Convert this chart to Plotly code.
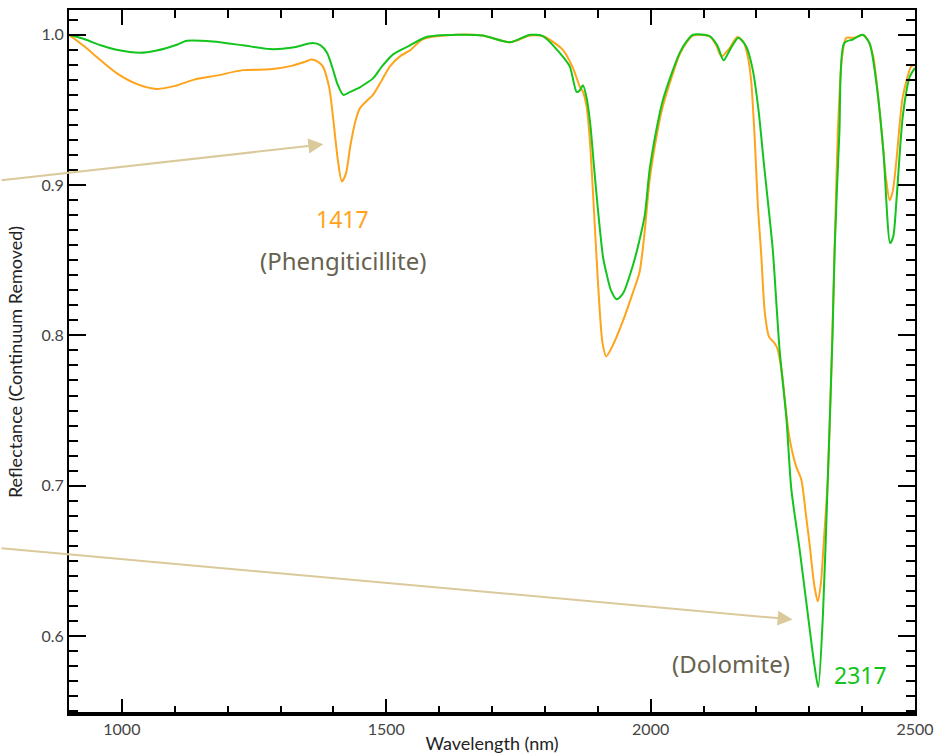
import plotly.graph_objects as go

# ---------------- data ----------------
green_wl = [900, 930, 960, 990, 1034, 1066, 1101, 1123, 1172, 1229, 1280, 1323, 1361, 1376, 1388,
            1400, 1408, 1419, 1432, 1450, 1463, 1475, 1492, 1513, 1545, 1576, 1633, 1682, 1734,
            1772, 1797, 1828, 1847, 1860, 1866, 1872, 1879, 1886, 1893, 1900, 1910, 1916, 1925,
            1936, 1948, 1966, 1978, 1989, 1998, 2011, 2022, 2040, 2055, 2068, 2080, 2112, 2126,
            2138, 2150, 2166, 2181, 2193, 2204, 2214, 2223, 2231, 2244, 2257, 2266, 2282, 2301,
            2310, 2317, 2326, 2335, 2344, 2348, 2357, 2366, 2383, 2401, 2414, 2427, 2440, 2453,
            2459, 2465, 2477, 2490, 2500]
green_refl = [1.000, 0.997, 0.993, 0.990, 0.988, 0.9895, 0.993, 0.996, 0.9955, 0.993, 0.9905, 0.9915,
              0.9945, 0.993, 0.988, 0.976, 0.967, 0.960, 0.962, 0.965, 0.968, 0.971, 0.979, 0.987,
              0.993, 0.9985, 1.000, 0.9995, 0.995, 1.000, 0.999, 0.988, 0.979, 0.962, 0.963, 0.9665,
              0.958, 0.940, 0.912, 0.885, 0.852, 0.842, 0.830, 0.824, 0.828, 0.846, 0.862, 0.880,
              0.910, 0.937, 0.955, 0.9745, 0.988, 0.9956, 1.000, 0.999, 0.993, 0.983, 0.990, 0.998,
              0.992, 0.977, 0.950, 0.915, 0.885, 0.857, 0.790, 0.744, 0.698, 0.657, 0.604, 0.580,
              0.566, 0.615, 0.704, 0.800, 0.857, 0.935, 0.9945, 0.997, 1.000, 0.9945, 0.968, 0.9235,
              0.8614, 0.866, 0.890, 0.946, 0.972, 0.978]

orange_wl = [900, 930, 960, 990, 1030, 1066, 1101, 1135, 1181, 1229, 1280, 1323, 1346, 1358, 1371,
             1380, 1392, 1400, 1408, 1416, 1424, 1432, 1442, 1450, 1463, 1475, 1492, 1507, 1527,
             1545, 1569, 1633, 1682, 1734, 1772, 1797, 1834, 1853, 1866, 1872, 1879, 1885, 1891,
             1898, 1904, 1909, 1916, 1928, 1948, 1966, 1979, 1989, 1998, 2011, 2022, 2040, 2055,
             2068, 2080, 2112, 2124, 2134, 2149, 2164, 2176, 2184, 2190, 2197, 2203, 2209, 2216,
             2224, 2234, 2240, 2249, 2256, 2262, 2275, 2285, 2294, 2301, 2309, 2316, 2322, 2327,
             2335, 2342, 2348, 2354, 2362, 2370, 2385, 2401, 2410, 2421, 2429, 2437, 2445, 2452,
             2458, 2465, 2477, 2493, 2500]
orange_refl = [1.000, 0.992, 0.983, 0.9745, 0.967, 0.964, 0.966, 0.970, 0.973, 0.9765, 0.977, 0.9795,
               0.982, 0.9835, 0.982, 0.979, 0.965, 0.943, 0.918, 0.9024, 0.908, 0.926, 0.943, 0.951,
               0.956, 0.960, 0.970, 0.979, 0.986, 0.9896, 0.997, 1.000, 0.9995, 0.995, 0.9995, 0.999,
               0.990, 0.978, 0.9655, 0.962, 0.952, 0.930, 0.895, 0.850, 0.815, 0.795, 0.786, 0.793,
               0.810, 0.828, 0.842, 0.870, 0.903, 0.932, 0.951, 0.972, 0.987, 0.995, 0.9995, 0.999,
               0.993, 0.9856, 0.991, 0.9985, 0.995, 0.985, 0.970, 0.930, 0.885, 0.855, 0.815, 0.799,
               0.795, 0.791, 0.773, 0.750, 0.733, 0.713, 0.704, 0.680, 0.660, 0.635, 0.623, 0.635,
               0.660, 0.704, 0.780, 0.857, 0.935, 0.985, 0.998, 0.998, 1.000, 0.997, 0.9856, 0.963,
               0.935, 0.905, 0.890, 0.896, 0.917, 0.959, 0.979, 0.980]

x_title = "Wavelength (nm)"
y_title = "Reflectance (Continuum Removed)"

GREEN = "#12c41c"
ORANGE = "#ffa31a"
ARROW = "#dac99b"
NOTE = "#67624f"

fig = go.Figure()
fig.add_trace(go.Scatter(x=orange_wl, y=orange_refl, mode="lines",
                         line=dict(color=ORANGE, width=2, shape="spline", smoothing=0.7),
                         showlegend=False, hoverinfo="skip"))
fig.add_trace(go.Scatter(x=green_wl, y=green_refl, mode="lines",
                         line=dict(color=GREEN, width=2, shape="spline", smoothing=0.7),
                         showlegend=False, hoverinfo="skip"))

tickfont = dict(family="Lato", size=16, color="#444444")
titlefont = dict(family="Lato", size=18, color="#222222")

fig.update_xaxes(range=[900, 2500], tick0=1000, dtick=500, ticks="inside", ticklen=15, tickwidth=2,
                 tickcolor="black", showline=True, linecolor="black", linewidth=2, mirror="allticks",
                 showgrid=False, zeroline=False, tickfont=tickfont,
                 minor=dict(dtick=100, ticks="inside", ticklen=8, tickwidth=2, tickcolor="black",
                            showgrid=False),
                 title=dict(text=x_title, font=titlefont, standoff=2), automargin=False)
fig.update_yaxes(range=[0.5481, 1.0165], tick0=0.6, dtick=0.1, tickformat=".1f", ticks="inside",
                 ticklen=17, tickwidth=2, tickcolor="black", showline=True, linecolor="black",
                 linewidth=2, mirror="allticks", showgrid=False, zeroline=False, tickfont=tickfont,
                 minor=dict(dtick=0.01, ticks="inside", ticklen=9, tickwidth=2, tickcolor="black",
                            showgrid=False),
                 title=dict(text=y_title, font=titlefont, standoff=14), automargin=False)

annos = [
    dict(x=1417.4, y=0.8772, text="1417", font=dict(family="Noto Sans", size=23, color=ORANGE)),
    dict(x=1417.4, y=0.8499, text="(Phengiticillite)", font=dict(family="Noto Sans", size=24, color=NOTE)),
    dict(x=2151.8, y=0.5820, text="(Dolomite)", font=dict(family="Noto Sans", size=24, color=NOTE)),
    dict(x=2396.6, y=0.5740, text="2317", font=dict(family="Noto Sans", size=23, color=GREEN)),
]
for a in annos:
    fig.add_annotation(xref="x", yref="y", showarrow=False, xanchor="center", yanchor="middle", **a)

arrows = [
    dict(x=1381.1, y=0.9271, ax=-323.3, ay=36),
    dict(x=2268.5, y=0.6110, ax=-792.7, ay=-71.3),
]
for a in arrows:
    fig.add_annotation(xref="x", yref="y", axref="pixel", ayref="pixel", text="", showarrow=True,
                       arrowhead=2, arrowsize=1.5, arrowwidth=2, arrowcolor=ARROW, standoff=0, **a)

fig.add_shape(type="line", xref="paper", yref="paper", x0=0, x1=1, y0=0, y1=0,
              line=dict(color="black", width=4), layer="above")

fig.update_layout(width=936, height=754, margin=dict(l=69, r=21, t=10, b=40),
                  plot_bgcolor="white", paper_bgcolor="white", showlegend=False)

fig.write_html("out.html", config={"displayModeBar": False},
               post_script="document.body.style.margin='0';document.body.style.overflow='hidden';")
